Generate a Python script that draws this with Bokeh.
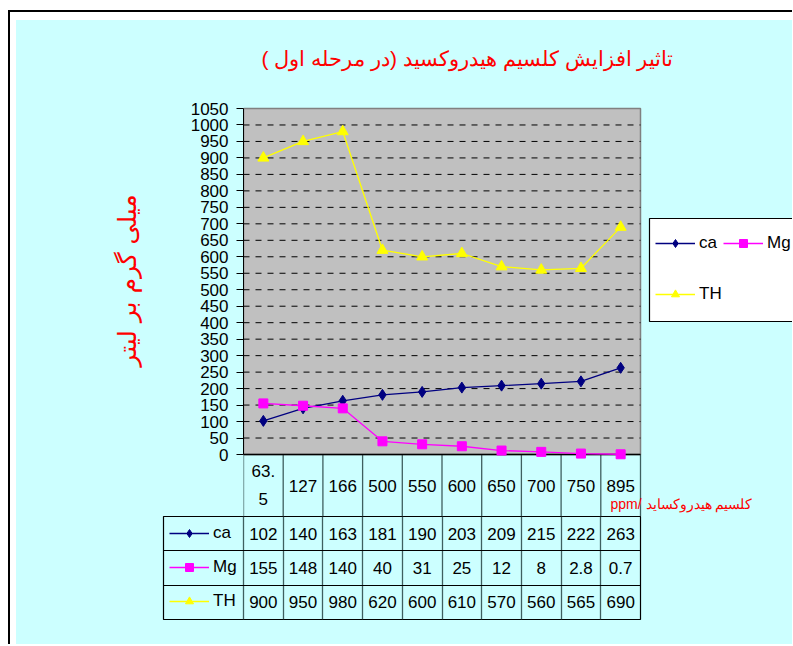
import numpy as np
from bokeh.plotting import figure
from bokeh.models import (Range1d, FixedTicker, BoxAnnotation, Label, Legend,
                          LegendItem, ColumnDataSource, Grid)
from bokeh.layouts import column
from bokeh.embed import file_html
from bokeh.resources import INLINE
from bokeh.core.properties import value

# ---------------- data ----------------
categories = ["63.5", "127", "166", "500", "550", "600", "650", "700", "750", "895"]
header_labels = ["63.\n5", "127", "166", "500", "550", "600", "650", "700", "750", "895"]
ca = [102, 140, 163, 181, 190, 203, 209, 215, 222, 263]
mg = [155, 148, 140, 40, 31, 25, 12, 8, 2.8, 0.7]
th = [900, 950, 980, 620, 600, 610, 570, 560, 565, 690]
series_names = ["ca", "Mg", "TH"]
y_ticks = list(range(0, 1051, 50))

title_text = "تاثیر افزایش کلسیم هیدروکسید (در مرحله اول )\u200f"
y_title = "میلی گرم بر لیتر"
x_title = "ppm/ کلسیم هیدروکساید"

# ---------------- style ----------------
CYAN = "#CCFFFF"
GRAY = "#C0C0C0"
NAVY = "#000080"
MAGENTA = "#FF00FF"
YELLOW = "#FFFF00"
SLATE = "#3F5F5F"
FONT = "Liberation Sans"
FS = "17px"

W = 776
TOP_H = 496
TAB_H = 128
LEFT = 227                       # chart frame starts 227 px into the canvas
TOP = 24                         # chart frame starts 24 px below the canvas top
PX_PER_UNIT = (454 - 108) / 1050.0
COL_PX = 397 / 10.0
Y_MIN = -(516 - 454) / PX_PER_UNIT
Y_MAX = (454 - 20 - TOP) / PX_PER_UNIT
X_MAX = (W - LEFT) / COL_PX

n = len(categories)
xc = np.arange(n) + 0.5
bounds = np.arange(n + 1)
src = ColumnDataSource(dict(x=xc, ca=ca, mg=mg, th=th))

# ---------------- chart ----------------
p = figure(width=W, height=TOP_H, x_range=Range1d(0, X_MAX), y_range=Range1d(Y_MIN, Y_MAX),
           x_axis_type=None, title=None, toolbar_location=None, output_backend="svg",
           min_border_left=LEFT, min_border_right=0, min_border_top=TOP, min_border_bottom=0,
           background_fill_color=CYAN, border_fill_color=CYAN, outline_line_color=None,
           frame_align=False)
p.ygrid.visible = False

yax = p.yaxis[0]
yax.ticker = FixedTicker(ticks=y_ticks)
yax.bounds = (y_ticks[0], y_ticks[-1])
yax.major_label_text_font = FONT
yax.major_label_text_font_size = FS
yax.major_label_text_color = "black"
yax.axis_line_color = "black"
yax.major_tick_line_color = "black"
yax.major_tick_out = 7
yax.major_tick_in = 0
yax.minor_tick_line_color = None
yax.major_label_standoff = 8
yax.axis_label = y_title
yax.axis_label_text_font = "DejaVu Sans"
yax.axis_label_text_font_size = "25px"
yax.axis_label_text_font_style = "normal"
yax.axis_label_text_color = "red"
yax.axis_label_standoff = 46

# grey plot area
p.add_layout(BoxAnnotation(left=0, right=n, bottom=y_ticks[0], top=y_ticks[-1],
                           fill_color=GRAY, fill_alpha=1.0, line_color="#808080",
                           line_alpha=1.0, line_width=1.5, level="underlay"))
# dashed horizontal gridlines over the plot area
gt = y_ticks[1:-1]
p.segment(x0=[0] * len(gt), x1=[n] * len(gt), y0=gt, y1=gt,
          line_color="black", line_width=1, line_dash="6 6")
# vertical lines of the header row of the data table
p.segment(x0=bounds, x1=bounds, y0=[Y_MIN] * len(bounds), y1=[0] * len(bounds),
          line_color=SLATE, line_width=1.3)
# category axis line
p.segment(x0=[0], x1=[n], y0=[0], y1=[0], line_color="black", line_width=1.3)

r_ca_l = p.line("x", "ca", source=src, line_color=NAVY, line_width=1.3)
r_ca_m = p.scatter("x", "ca", source=src, marker="diamond", size=11,
                   fill_color=NAVY, line_color=NAVY)
r_mg_l = p.line("x", "mg", source=src, line_color=MAGENTA, line_width=1.3)
r_mg_m = p.scatter("x", "mg", source=src, marker="square", size=9,
                   fill_color=MAGENTA, line_color=MAGENTA)
r_th_l = p.line("x", "th", source=src, line_color=YELLOW, line_width=1.3)
r_th_m = p.scatter("x", "th", source=src, marker="triangle", size=11,
                   fill_color=YELLOW, line_color=YELLOW)

# header row of the data table (category labels)
p.text(x=xc, y=[Y_MIN / 2] * n, text=header_labels, text_align="center",
       text_baseline="middle", text_font=value(FONT), text_font_size=FS,
       text_line_height=1.45, text_color="black")

# titles
p.add_layout(Label(x=224, y=458, x_units="screen", y_units="screen", text=title_text,
                   text_align="center", text_baseline="middle", text_color="red",
                   text_font=FONT, text_font_size="21px"))
p.add_layout(Label(x=367, y=13, x_units="screen", y_units="screen", text=x_title,
                   text_align="left", text_baseline="middle", text_color="red",
                   text_font=FONT, text_font_size="14px"))

# legend box and legends
p.add_layout(BoxAnnotation(left=406, right=640, bottom=195, top=298,
                           left_units="screen", right_units="screen",
                           top_units="screen", bottom_units="screen",
                           fill_color="white", fill_alpha=1.0, line_color="black",
                           line_alpha=1.0, line_width=1.2))
leg_common = dict(padding=0, margin=0, glyph_width=40, glyph_height=20, label_height=20,
                  label_standoff=4, label_text_font=FONT, label_text_font_size=FS,
                  label_text_color="black", border_line_color=None,
                  background_fill_alpha=0)
leg_a = Legend(items=[LegendItem(label=series_names[0], renderers=[r_ca_l, r_ca_m]),
                      LegendItem(label=series_names[1], renderers=[r_mg_l, r_mg_m])],
               orientation="horizontal", location=(412, 263), spacing=4, **leg_common)
leg_b = Legend(items=[LegendItem(label=series_names[2], renderers=[r_th_l, r_th_m])],
               orientation="horizontal", location=(412, 212), spacing=4, **leg_common)
p.add_layout(leg_a)
p.add_layout(leg_b)

# ---------------- data table ----------------
T_LEFT = 147
t = figure(width=W, height=TAB_H, x_range=Range1d(-80 / COL_PX, n), y_range=Range1d(0, 3),
           x_axis_type=None, y_axis_type=None, title=None, toolbar_location=None,
           output_backend="svg",
           min_border_left=T_LEFT, min_border_right=W - T_LEFT - 477, min_border_top=0,
           min_border_bottom=TAB_H - 103,
           background_fill_color=CYAN, border_fill_color=CYAN,
           outline_line_color="black", outline_line_width=1.2, frame_align=False)
t.add_layout(Grid(dimension=0, ticker=FixedTicker(ticks=list(range(n))),
                  grid_line_color=SLATE, grid_line_width=1.3))
t.add_layout(Grid(dimension=1, ticker=FixedTicker(ticks=[1, 2]),
                  grid_line_color="black", grid_line_width=1.2))

rows = [ca, mg, th]
for i, vals in enumerate(rows):
    t.text(x=xc, y=[2.5 - i] * n, text=[f"{v:g}" for v in vals], text_align="center",
           text_baseline="middle", text_font=value(FONT), text_font_size=FS,
           text_color="black")

# legend keys of the table: series drawn on a range far outside the visible one
t.extra_y_ranges = {"keys": Range1d(5000, 6000)}
k_ca_l = t.line("x", "ca", source=src, y_range_name="keys", line_color=NAVY, line_width=1.3)
k_ca_m = t.scatter("x", "ca", source=src, y_range_name="keys", marker="diamond",
                   fill_color=NAVY, line_color=NAVY)
k_mg_l = t.line("x", "mg", source=src, y_range_name="keys", line_color=MAGENTA,
                line_width=1.3)
k_mg_m = t.scatter("x", "mg", source=src, y_range_name="keys", marker="square",
                   fill_color=MAGENTA, line_color=MAGENTA)
k_th_l = t.line("x", "th", source=src, y_range_name="keys", line_color=YELLOW,
                line_width=1.3)
k_th_m = t.scatter("x", "th", source=src, y_range_name="keys", marker="triangle",
                   fill_color=YELLOW, line_color=YELLOW)
leg_t = Legend(items=[LegendItem(label=series_names[0], renderers=[k_ca_l, k_ca_m]),
                      LegendItem(label=series_names[1], renderers=[k_mg_l, k_mg_m]),
                      LegendItem(label=series_names[2], renderers=[k_th_l, k_th_m])],
               orientation="vertical", location=(6, 8), spacing=14, **leg_common)
t.add_layout(leg_t)

inner = column(p, t, spacing=0, styles={"background-color": CYAN})
root = column(inner,
              styles={"border-left": "2px solid black", "border-top": "2px solid black",
                      "padding-left": "6px", "padding-top": "8px",
                      "margin-left": "8px", "margin-top": "10px",
                      "background-color": "white"})

open("out.html", "w").write(file_html(root, INLINE))
